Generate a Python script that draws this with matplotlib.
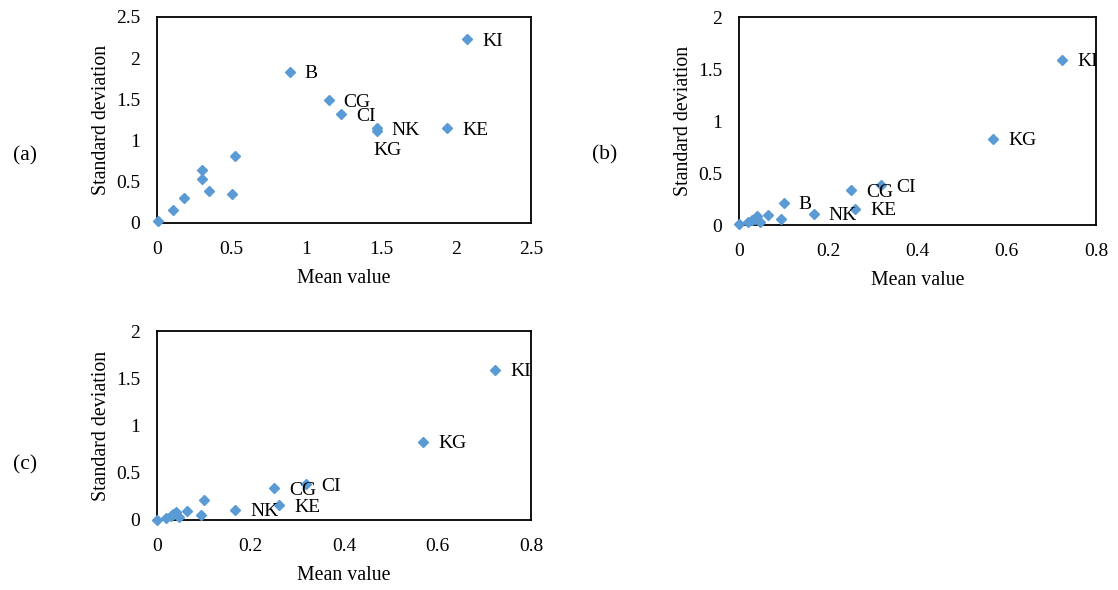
import matplotlib
matplotlib.use('Agg')
import matplotlib.pyplot as plt

plt.rcParams['font.family'] = ['Liberation Serif', 'DejaVu Serif']

W, H = 1118, 590
BLUE = '#5B9BD5'

# panel (a)
a_mean = [0.01, 0.105, 0.183, 0.301, 0.301, 0.345, 0.504, 0.521, 0.887, 1.148, 1.232, 1.468, 1.468, 1.939, 2.074]
a_std = [0.02, 0.154, 0.307, 0.639, 0.538, 0.385, 0.348, 0.813, 1.836, 1.489, 1.319, 1.149, 1.12, 1.149, 2.233]
a_labels = {8: 'B', 9: 'CG', 10: 'CI', 11: 'NK', 12: 'KG', 13: 'KE', 14: 'KI'}

# panels (b) and (c)
b_mean = [0.0, 0.02, 0.03, 0.035, 0.04, 0.046, 0.065, 0.095, 0.10, 0.167, 0.251, 0.261, 0.319, 0.569, 0.724]
b_std = [0.005, 0.025, 0.045, 0.06, 0.085, 0.03, 0.10, 0.055, 0.215, 0.108, 0.335, 0.155, 0.38, 0.83, 1.59]
b_labels = {8: 'B', 9: 'NK', 10: 'CG', 11: 'KE', 12: 'CI', 13: 'KG', 14: 'KI'}
c_labels = {9: 'NK', 10: 'CG', 11: 'KE', 12: 'CI', 13: 'KG', 14: 'KI'}

fig = plt.figure(figsize=(W/100, H/100), dpi=100)

def panel(box, xs, ys, labels, xmax, xstep, ymax, ystep, tag, tagpos, special=None):
	l, t, r, b = box
	ax = fig.add_axes([l/W, 1-b/H, (r-l)/W, (b-t)/H])
	ax.plot(xs, ys, ls='', marker='D', ms=5.2, color=BLUE, mec=BLUE, clip_on=False, zorder=3)
	ax.set_xlim(0, xmax)
	ax.set_ylim(0, ymax)
	nx = int(round(xmax/xstep))
	ny = int(round(ymax/ystep))
	xt = [i*xstep for i in range(nx+1)]
	yt = [i*ystep for i in range(ny+1)]
	ax.set_xticks(xt)
	ax.set_yticks(yt)
	ax.set_xticklabels(['%g' % round(v, 2) for v in xt])
	ax.set_yticklabels(['%g' % round(v, 2) for v in yt])
	ax.tick_params(length=0, labelsize=14)
	ax.tick_params(axis='x', pad=13)
	ax.tick_params(axis='y', pad=12)
	for s in ax.spines.values():
		s.set_linewidth(1.3)
	for i, lab in labels.items():
		off = (15, -2)
		if special and lab in special:
			off = special[lab]
		ax.annotate(lab, (xs[i], ys[i]), xytext=off, textcoords='offset pixels',
			ha='left', va='center', fontsize=14)
	cx = (l + r) / 2
	fig.text(cx/W, 1-(b+60)/H, 'Mean value', ha='center', va='baseline', fontsize=14.3)
	fig.text((l-56)/W, 1-((t+b)/2)/H, 'Standard deviation', ha='center', va='center',
		rotation=90, fontsize=14.3)
	fig.text(tagpos[0]/W, 1-tagpos[1]/H, tag, ha='center', va='center', fontsize=15.5)
	return ax

panel((157, 17, 531, 223), a_mean, a_std, a_labels, 2.5, 0.5, 2.5, 0.5, '(a)', (25, 156),
	special={'KG': (-3, -20)})
panel((739, 17, 1096, 225), b_mean, b_std, b_labels, 0.8, 0.2, 2, 0.5, '(b)', (605, 155))
panel((157, 331, 531, 520), b_mean, b_std, c_labels, 0.8, 0.2, 2, 0.5, '(c)', (25, 465))

fig.savefig('out.png', dpi=100)
